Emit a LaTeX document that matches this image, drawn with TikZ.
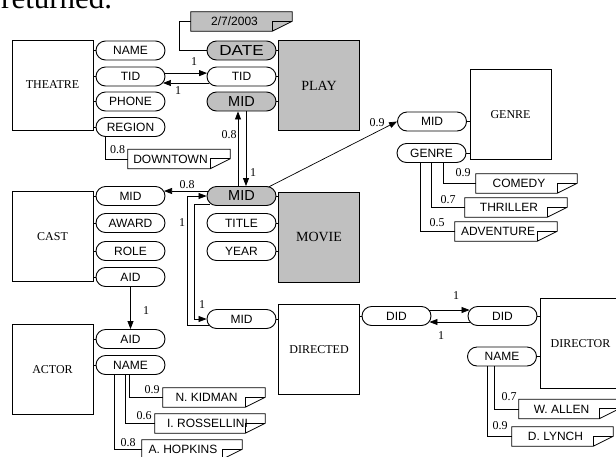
\documentclass[tikz,border=0pt]{standalone}
\usepackage{fontspec}
\setmainfont{Liberation Serif}
\newfontfamily\arialf{Liberation Sans}
\usetikzlibrary{arrows.meta,calc}
\definecolor{gfill}{RGB}{192,192,192}
\tikzset{
 ent/.style={draw, line width=0.9pt, minimum width=81pt, minimum height=90pt, inner sep=0pt, font=\fontsize{12}{14}\selectfont},
 gent/.style={ent, fill=gfill, font=\fontsize{14}{16}\selectfont},
 pill/.style={draw, line width=0.9pt, rounded corners=9.5pt, minimum width=69pt, minimum height=19pt, inner sep=0pt, font=\arialf\fontsize{12}{14}\selectfont},
 gpill/.style={pill, fill=gfill, font=\arialf\fontsize{14.5}{16}\selectfont},
 notebase/.style={minimum height=19pt, inner sep=0pt},
 notelbl/.style={font=\arialf\fontsize{12}{14}\selectfont, inner sep=0pt},
 num/.style={font=\fontsize{12}{14}\selectfont, inner sep=0pt},
 conn/.style={line width=0.7pt},
 arr/.style={conn, -{Triangle[length=8pt,width=6pt]}},
}
\newcommand\notenode[6]{%
 \node[notebase, minimum width=#3pt] (#1) at (#2) {};
 \draw[line width=0.8pt, fill=#5] (#1.north west) -- (#1.north east) -- ($(#1.north east)+(0,9.5)$) -- ($(#1.south east)+(-20,0)$) -- (#1.south west) -- cycle;
 \draw[line width=0.8pt] ($(#1.south east)+(-20,0)$) -- ($(#1.north east)+(-20,9.5)$) -- ($(#1.north east)+(0,9.5)$);
 \node[notelbl] (#1-t) at ($(#1.center)+(#6,0)$) {#4};
}
\begin{document}
\begin{tikzpicture}[x=1pt,y=-1pt]
\useasboundingbox (0,0) rectangle (616,456);
\node[anchor=base west, inner sep=0pt, font=\fontsize{31}{36}\selectfont] (toptext) at (1,8.5) {returned.};

% THEATRE
\node[ent] (theatre) at (52.5,85) {THEATRE};
\node[pill] (th-name) at (130.5,50.5) {NAME};
\node[pill] (th-tid) at (130.5,76.5) {TID};
\node[pill] (th-phone) at (130.5,101.5) {PHONE};
\node[pill] (th-region) at (130.5,127) {REGION};
\foreach \p in {th-name,th-tid,th-phone,th-region} \draw[conn] (\p.west) -- (\p.west -| theatre.east);
\notenode{n-down}{179,159}{102}{DOWNTOWN}{white}{-8.5}
\draw[conn] ($(th-region.south west)+(10,0)$) |- (n-down.west);
\node[num] (l-down) at (117.5,150) {0.8};

% PLAY
\node[gent] (play) at (319,85.5) {PLAY};
\node[gpill] (pl-date) at (241.5,50.5) {\scalebox{1.18}[1]{DATE}};
\node[pill] (pl-tid) at (241.5,76.5) {TID};
\node[gpill] (pl-mid) at (241.5,101.5) {MID};
\foreach \p in {pl-date,pl-tid,pl-mid} \draw[conn] (\p.east) -- (\p.east -| play.west);
\notenode{n-date}{241.5,21.5}{101}{2/7/2003}{gfill}{-7}
\draw[conn] (pl-date.west) -- ++(-27,0) |- (n-date.west);

% TID arrows
\draw[arr] ($(th-tid.east)+(-0.5,-3.4)$) -- ($(pl-tid.west)+(0.5,-3.4)$);
\node[num] (l-tid1) at (194,62) {1};
\draw[arr] ($(pl-tid.west)+(2.5,6.5)$) -- ($(th-tid.east)+(-2.5,6.5)$);
\node[num] (l-tid2) at (178,91) {1};

% CAST
\node[ent] (cast) at (52.5,236.5) {CAST};
\node[pill] (ca-mid) at (130.5,196) {MID};
\node[pill] (ca-award) at (130.5,223) {AWARD};
\node[pill] (ca-role) at (130.5,251) {ROLE};
\node[pill] (ca-aid) at (130.5,277) {AID};
\foreach \p in {ca-mid,ca-award,ca-role,ca-aid} \draw[conn] (\p.west) -- (\p.west -| cast.east);

% MOVIE
\node[gent] (movie) at (319,237) {MOVIE};
\node[gpill] (mv-mid) at (241.5,196) {MID};
\node[pill] (mv-title) at (241.5,223) {TITLE};
\node[pill] (mv-year) at (241.5,251) {YEAR};
\foreach \p in {mv-mid,mv-title,mv-year} \draw[conn] (\p.east) -- (\p.east -| movie.west);

% PLAY MID <-> MOVIE MID
\draw[arr] ($(mv-mid.north)+(-3.5,0)$) -- ($(pl-mid.south)+(-3.5,0)$);
\draw[arr] ($(pl-mid.south)+(4.5,0)$) -- ($(mv-mid.north)+(4.5,0)$);
\node[num] (l-pm1) at (229,135) {0.8};
\node[num] (l-pm2) at (253,173) {1};

% MOVIE MID -> CAST MID
\draw[arr] ($(mv-mid.west)+(1.4,-5)$) -- ($(ca-mid.east)+(-1.4,-5)$);
\node[num] (l-mc) at (187,185) {0.8};

% ACTOR
\node[ent] (actor) at (52.5,369.5) {ACTOR};
\node[pill] (ac-aid) at (130.5,339) {AID};
\node[pill] (ac-name) at (130.5,365) {NAME};
\foreach \p in {ac-aid,ac-name} \draw[conn] (\p.west) -- (\p.west -| actor.east);
\draw[arr] (ca-aid.south) -- (ac-aid.north);
\node[num] (l-aid) at (146,311) {1};
\notenode{n-kid}{214,397.5}{102}{N. KIDMAN}{white}{-7.5}
\notenode{n-ros}{210,423.5}{110}{I. ROSSELLINI}{white}{-2.5}
\notenode{n-hop}{192,449.5}{100}{A. HOPKINS}{white}{-9}
\draw[conn] ($(ac-name.south west)+(34,0)$) |- (n-kid.west);
\draw[conn] ($(ac-name.south west)+(30,0)$) |- (n-ros.west);
\draw[conn] ($(ac-name.south west)+(19,0)$) |- (n-hop.west);
\node[num] (l-kid) at (152,390) {0.9};
\node[num] (l-ros) at (144,416) {0.6};
\node[num] (l-hop) at (128,443) {0.8};

% DIRECTED
\node[ent] (directed) at (319,349.5) {DIRECTED};
\node[pill] (dd-mid) at (241.5,319) {MID};
\node[pill] (dd-did) at (396.5,316) {DID};
\draw[conn] (dd-mid.east) -- (dd-mid.east -| directed.west);
\draw[conn] (dd-did.west) -- (dd-did.west -| directed.east);

% MOVIE MID <-> DIRECTED MID
\draw[arr] ($(dd-mid.west)+(2,6)$) -- ++(-21,0) |- (mv-mid.west);
\node[num] (l-dm1) at (182,223) {1};
\draw[arr] ($(mv-mid.west)+(3.5,8)$) -- ++(-15.5,0) |- (dd-mid.west);
\node[num] (l-dm2) at (202,305) {1};

% DIRECTOR
\node[ent] (director) at (580.5,343.5) {DIRECTOR};
\node[pill] (dr-did) at (502.5,316) {DID};
\node[pill] (dr-name) at (502,356.5) {NAME};
\foreach \p in {dr-did,dr-name} \draw[conn] (\p.east) -- (\p.east -| director.west);
\draw[arr] ($(dd-did.east)+(-2,-6)$) -- ($(dr-did.west)+(2,-6)$);
\node[num] (l-did1) at (456,296) {1};
\draw[arr] ($(dr-did.west)+(2,6)$) -- ($(dd-did.east)+(-2,6)$);
\node[num] (l-did2) at (441,336) {1};
\notenode{n-allen}{569,409}{100}{W. ALLEN}{white}{-7.5}
\notenode{n-lynch}{562.5,436.5}{101}{D. LYNCH}{white}{-7}
\draw[conn] ($(dr-name.south west)+(27.5,0)$) |- (n-allen.west);
\draw[conn] ($(dr-name.south west)+(20.5,0)$) |- (n-lynch.west);
\node[num] (l-allen) at (509,397) {0.7};
\node[num] (l-lynch) at (500,426) {0.9};

% GENRE
\node[ent] (genre) at (510.5,114.5) {GENRE};
\node[pill] (gn-mid) at (432,121.5) {MID};
\node[pill] (gn-genre) at (431.5,153) {GENRE};
\foreach \p in {gn-mid,gn-genre} \draw[conn] (\p.east) -- (\p.east -| genre.west);
\draw[arr] ($(mv-mid.north east)+(-8,1)$) -- (gn-mid.west);
\node[num] (l-gm) at (377,123) {0.9};
\notenode{n-com}{526.5,183.5}{101}{COMEDY}{white}{-7.5}
\notenode{n-thr}{516,207.5}{102}{THRILLER}{white}{-7}
\notenode{n-adv}{506,231.5}{102}{ADVENTURE}{white}{-8}
\draw[conn] ($(gn-genre.south west)+(47,0)$) |- (n-com.west);
\draw[conn] ($(gn-genre.south west)+(35,0)$) |- (n-thr.west);
\draw[conn] ($(gn-genre.south west)+(24,0)$) |- (n-adv.west);
\node[num] (l-com) at (463,173) {0.9};
\node[num] (l-thr) at (448,200) {0.7};
\node[num] (l-adv) at (437,223) {0.5};
\end{tikzpicture}
\end{document}
